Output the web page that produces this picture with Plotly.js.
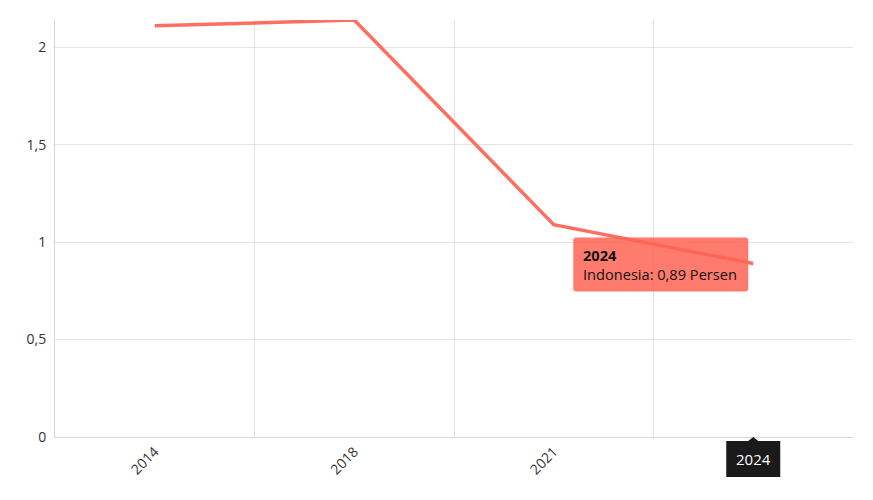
<!DOCTYPE html>
<html>
<head>
<meta charset="utf-8">
<script src="https://cdn.plot.ly/plotly-3.0.1.min.js"></script>
<style>html,body{margin:0;padding:0;background:#fff;}#chart{width:873px;height:500px;}</style>
</head>
<body>
<div id="chart"></div>
<script>
const years = ['2014', '2018', '2021', '2024'];
const indonesia = [2.11, 2.14, 1.09, 0.89];
const seriesName = 'Indonesia';
const unit = 'Persen';
const yTicks = [0, 0.5, 1, 1.5, 2];

const hoverIdx = 3;
const fmt = v => v.toFixed(2).replace('.', ',');

const W = 873, H = 500;
const M = {l: 55, r: 20, t: 20, b: 63};
const PW = W - M.l - M.r, PH = H - M.t - M.b;
const yMax = 2.14;

// helpers converting pixel offsets around a data point into paper coordinates
const xp = i => (i + 0.5) / years.length;          // category centre in paper units
const yp = v => v / yMax;
const dx = px => px / PW, dy = py => py / PH;       // pixel -> paper (y up)

function roundRectPaper(cx, cy, x0, y0, x1, y1, r) {
  const X = p => (cx + dx(p)).toFixed(5), Y = p => (cy + dy(p)).toFixed(5);
  return `M${X(x0+r)},${Y(y1)} L${X(x1-r)},${Y(y1)} Q${X(x1)},${Y(y1)} ${X(x1)},${Y(y1-r)} ` +
         `L${X(x1)},${Y(y0+r)} Q${X(x1)},${Y(y0)} ${X(x1-r)},${Y(y0)} L${X(x0+r)},${Y(y0)} ` +
         `Q${X(x0)},${Y(y0)} ${X(x0)},${Y(y0+r)} L${X(x0)},${Y(y1-r)} Q${X(x0)},${Y(y1)} ${X(x0+r)},${Y(y1)} Z`;
}
function polyPaper(cx, cy, pts) {
  return pts.map((p, k) => (k ? 'L' : 'M') + (cx + dx(p[0])).toFixed(5) + ',' + (cy + dy(p[1])).toFixed(5)).join(' ') + ' Z';
}

const trace = {
  x: years, y: indonesia, type: 'scatter', mode: 'lines', name: seriesName,
  line: {color: '#ff6f61', width: 3.5}, hoverinfo: 'skip'
};

const hx = xp(hoverIdx), hy = yp(indonesia[hoverIdx]);

const layout = {
  width: W, height: H,
  margin: M,
  paper_bgcolor: '#fff', plot_bgcolor: '#fff',
  separators: ', ',
  font: {family: 'Open Sans, Noto Sans, sans-serif', color: '#333', size: 14},
  showlegend: false,
  xaxis: {
    type: 'category', range: [-0.5, 3.5], tickangle: -45,
    tickson: 'boundaries', showgrid: true, gridcolor: '#e3e3e3', gridwidth: 1,
    showline: true, linecolor: '#d6d6d6', linewidth: 1, ticks: '',
    tickfont: {size: 14, color: '#333'}, fixedrange: true, zeroline: false
  },
  yaxis: {
    range: [0, yMax], tickvals: yTicks, showgrid: true, gridcolor: '#e3e3e3',
    showline: true, linecolor: '#d6d6d6', linewidth: 1, ticks: '',
    ticklabelstandoff: 5,
    tickfont: {size: 14, color: '#333'}, zeroline: false, fixedrange: true
  },
  shapes: [
    {type: 'path', layer: 'above', xref: 'paper', yref: 'paper',
     path: roundRectPaper(hx, hy, -180, -28, -5, 26, 3),
     fillcolor: 'rgba(255,100,85,0.85)', line: {width: 0}},
    {type: 'path', layer: 'above', xref: 'paper', yref: 'paper',
     path: polyPaper(hx, 0, [[-27,-4],[-5,-4],[0,0],[5,-4],[27,-4],[27,-40],[-27,-40]]),
     fillcolor: '#1a1a1a', line: {width: 0}}
  ],
  annotations: [
    {x: hx, y: hy, xref: 'paper', yref: 'paper', showarrow: false,
     xanchor: 'left', yanchor: 'middle', xshift: -172, yshift: -1, align: 'left',
     text: `<b>${years[hoverIdx]}</b><br>${seriesName}: ${fmt(indonesia[hoverIdx])} ${unit}`,
     font: {size: 14.6, color: '#111'}},
    {x: hx, y: 0, xref: 'paper', yref: 'paper', showarrow: false,
     xanchor: 'center', yanchor: 'middle', yshift: -22,
     text: years[hoverIdx], font: {size: 15, color: '#fff'}}
  ]
};

Plotly.newPlot('chart', [trace], layout, {displayModeBar: false, staticPlot: true});
</script>
</body>
</html>
